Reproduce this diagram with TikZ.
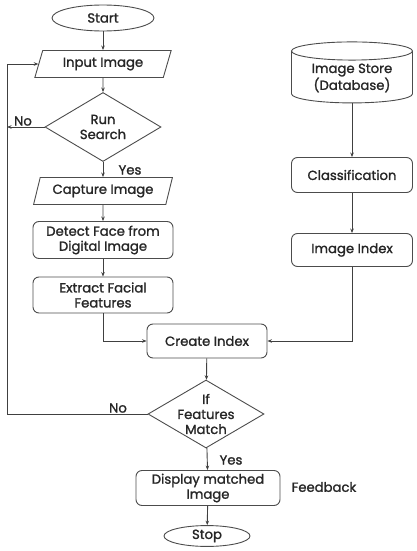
\documentclass[tikz,border=0pt]{standalone}
\usepackage{fontspec}
\setmainfont{Poppins}[FakeBold=1.4]
\usetikzlibrary{shapes.geometric,arrows.meta}
\begin{document}
\begin{tikzpicture}[x=1pt,y=-1pt,
 every node/.style={font=\fontsize{13.2}{15}\selectfont, text=black!85},
 shp/.style={draw=black!70, line width=0.9pt, align=center, inner sep=1pt},
 box/.style={shp, rounded corners=6pt},
 term/.style={shp, ellipse},
 io/.style={shp, trapezium, trapezium left angle=70, trapezium right angle=110, trapezium stretches=true},
 dia/.style={shp, diamond, inner sep=0pt},
 db/.style={shp, cylinder, shape border rotate=90, aspect=0.22},
 arr/.style={-{Stealth[length=4.5pt,width=3.5pt]}, draw=black!75, line width=0.9pt},
 ln/.style={draw=black!75, line width=0.9pt}
]
\useasboundingbox (0,0) rectangle (417,551);
\node[term, minimum width=102pt, minimum height=26pt] (start) at (103,18) {Start};
\node[io, minimum width=137pt, minimum height=27pt] (input) at (103,64) {Input Image};
\node[dia, minimum width=116pt, minimum height=69pt] (run) at (103,127) {};
\node (runtext) at (run) [align=center] {Run\\Search};
\node[io, minimum width=139pt, minimum height=27pt] (capture) at (103,191) {Capture Image};
\node[box, minimum width=140pt, minimum height=37pt] (detect) at (103,240) {Detect Face from\\Digital Image};
\node[box, minimum width=140pt, minimum height=36pt] (extract) at (103,295) {Extract Facial\\Features};
\node[box, minimum width=120pt, minimum height=34pt] (create) at (207,341) {Create Index};
\node[db, minimum width=121pt, minimum height=61pt] (store) at (352,78) {Image Store\\(Database)};
\node[box, minimum width=121pt, minimum height=35pt] (class) at (352,175) {Classification};
\node[box, minimum width=121pt, minimum height=33pt] (index) at (352,250) {Image Index};
\node[dia, minimum width=116pt, minimum height=68pt] (match) at (206,414) {};
\node (matchtext) at (match) [align=center] {If\\Features\\Match};
\node[box, minimum width=144pt, minimum height=35pt] (display) at (208,488) {Display matched\\Image};
\node[term, minimum width=86pt, minimum height=20pt] (stop) at (207,536) {Stop};
\node (fb) at (324,487) {Feedback};
\node (yes1) at (130,170) {Yes};
\node (yes2) at (231,460) {Yes};
\node (no1) at (23,121) {No};
\node (no2) at (118,408) {No};
\coordinate (lb) at (7,414);
\coordinate (lr) at (7,127);
\draw[arr] (start) -- (input);
\draw[arr] (input) -- (run);
\draw[arr] (run) -- (capture);
\draw[arr] (capture) -- (detect);
\draw[arr] (detect) -- (extract);
\draw[arr] (extract.south) |- (create.west);
\draw[arr] (store) -- (class);
\draw[arr] (class) -- (index);
\draw[arr] (index.south) |- (create.east);
\draw[arr] (create) -- (match);
\draw[arr] (match) -- (display);
\draw[arr] (display) -- (stop);
\draw[arr] (run.west) -- (lr);
\draw[arr] (match.west) -- (lb) |- (input.west);
\end{tikzpicture}
\end{document}
